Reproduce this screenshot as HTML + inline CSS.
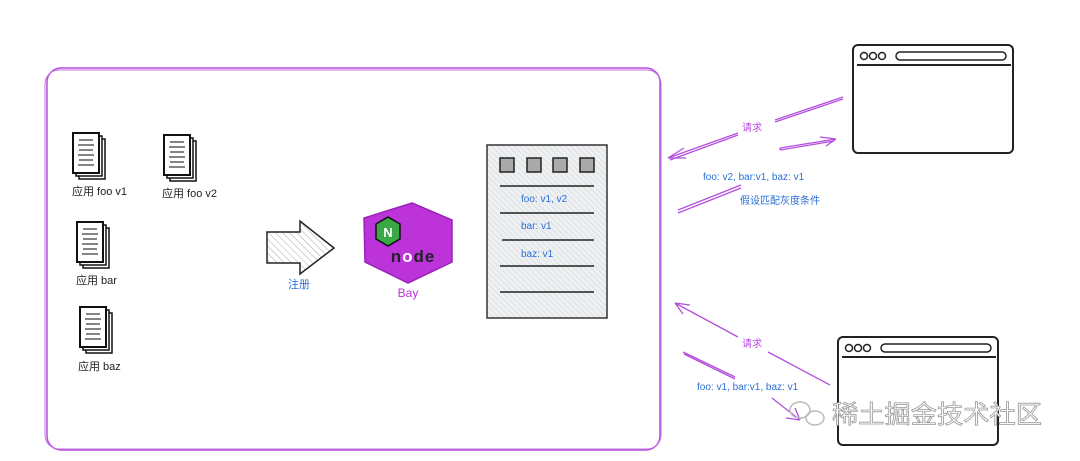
<!DOCTYPE html>
<html><head><meta charset="utf-8"><style>
html,body{margin:0;padding:0;background:#fff;width:1080px;height:461px;overflow:hidden}
text{font-family:"Liberation Sans","Noto Sans CJK SC",sans-serif}
</style></head><body>
<svg width="1080" height="461" viewBox="0 0 1080 461" xmlns="http://www.w3.org/2000/svg">
<defs>
<pattern id="h" width="5" height="5" patternUnits="userSpaceOnUse" patternTransform="rotate(-45)">
<line x1="0" y1="0" x2="0" y2="5" stroke="#aaa" stroke-width="1"/></pattern>
<pattern id="h2" width="4" height="4" patternUnits="userSpaceOnUse" patternTransform="rotate(-45)">
<rect width="4" height="4" fill="#eef0f2"/><line x1="0" y1="0" x2="0" y2="4" stroke="#cfd3d7" stroke-width="1"/></pattern>
<g id="doc">
<rect x="6" y="6" width="26" height="40" fill="#fff" stroke="#111" stroke-width="1.5"/>
<rect x="3" y="3" width="26" height="40" fill="#fff" stroke="#111" stroke-width="1.5"/>
<rect x="0" y="0" width="26" height="40" fill="#fff" stroke="#111" stroke-width="2"/>
<g stroke="#333" stroke-width="1.2"><line x1="6" y1="7" x2="20" y2="7"/><line x1="5" y1="12" x2="21" y2="12"/><line x1="6" y1="17" x2="20" y2="17"/><line x1="5" y1="22" x2="21" y2="22"/><line x1="6" y1="27" x2="20" y2="27"/><line x1="5" y1="32" x2="21" y2="32"/></g>
</g>
<g id="br">
<rect x="0" y="0" width="160" height="108" rx="5" fill="#fff" stroke="#222" stroke-width="2"/>
<circle cx="11" cy="11" r="3.5" fill="none" stroke="#222" stroke-width="1.5"/>
<circle cx="20" cy="11" r="3.5" fill="none" stroke="#222" stroke-width="1.5"/>
<circle cx="29" cy="11" r="3.5" fill="none" stroke="#222" stroke-width="1.5"/>
<rect x="43" y="7" width="110" height="8" rx="4" fill="none" stroke="#222" stroke-width="1.5"/>
<line x1="4" y1="20" x2="158" y2="20" stroke="#222" stroke-width="2"/>
</g>
</defs>

<rect x="47" y="68" width="613" height="382" rx="14" fill="none" stroke="#b44fdc" stroke-width="1.5"/>
<rect x="45" y="70" width="616" height="379" rx="14" fill="none" stroke="#c070e0" stroke-width="1"/>

<use href="#doc" x="73" y="133"/>
<use href="#doc" x="164" y="135"/>
<use href="#doc" x="77" y="222"/>
<use href="#doc" x="80" y="307"/>
<g font-size="11" fill="#222">
<text x="72" y="195">应用 foo v1</text>
<text x="162" y="197">应用 foo v2</text>
<text x="76" y="284">应用 bar</text>
<text x="78" y="370">应用 baz</text>
</g>

<path d="M267 232 H300 V221 L334 248 L300 274 V263 H267 Z" fill="url(#h)" stroke="#222" stroke-width="1.5"/>
<text x="288" y="288" font-size="11" fill="#2a6fd6">注册</text>

<polygon points="412,203 452,220 452,262 408,283 365,262 364,218" fill="#bb33d9" stroke="#9a22b8" stroke-width="1.5"/>
<polygon points="388,217 400,224 400,239 388,246 376,239 376,224" fill="#3aa845" stroke="#111" stroke-width="1.5"/>
<text x="388" y="237" font-size="13" font-weight="bold" fill="#fff" text-anchor="middle">N</text>
<text x="413" y="262" font-size="17" font-weight="bold" fill="#222" text-anchor="middle" letter-spacing="1">n<tspan fill="#fff">o</tspan>de</text>
<text x="408" y="297" font-size="12" fill="#bb33d9" text-anchor="middle">Bay</text>

<rect x="487" y="145" width="120" height="173" fill="url(#h2)" stroke="#333" stroke-width="1.5"/>
<g fill="#aaa" stroke="#222" stroke-width="1.5">
<rect x="500" y="158" width="14" height="14"/><rect x="527" y="158" width="14" height="14"/><rect x="553" y="158" width="14" height="14"/><rect x="580" y="158" width="14" height="14"/></g>
<g stroke="#222" stroke-width="1.5">
<line x1="500" y1="186" x2="594" y2="186"/><line x1="500" y1="213" x2="594" y2="213"/><line x1="502" y1="240" x2="594" y2="240"/><line x1="500" y1="266" x2="594" y2="266"/><line x1="500" y1="292" x2="594" y2="292"/></g>
<g font-size="10" fill="#2a6fd6">
<text x="521" y="202">foo: v1,  v2</text>
<text x="521" y="229">bar: v1</text>
<text x="521" y="257">baz: v1</text>
</g>

<use href="#br" x="853" y="45"/>
<use href="#br" x="838" y="337"/>

<g stroke="#b44fdc" stroke-width="1.3" fill="none">
<path d="M843 97 L775 120 M738 133 L668 158 M668 158 L684 148 M668 158 L686 158"/>
<path d="M843 99 L775 122 M738 135 L670 160"/>
<path d="M780 148 L836 139 M836 139 L820 137 M836 139 L826 146"/>
<path d="M780 150 L834 141 M780 148 L780 150"/>
<path d="M678 210 L741 185 M678 213 L741 188"/>
<path d="M830 385 L768 352 M738 337 L675 303 M675 303 L690 305 M675 303 L683 314"/>
<path d="M683 352 L735 377 M772 398 L800 420 M800 420 L786 418 M800 420 L795 408"/>
<path d="M684 354 L735 379"/>
</g>
<text x="742" y="131" font-size="10" fill="#b44fdc">请求</text>
<text x="742" y="347" font-size="10" fill="#b44fdc">请求</text>
<text x="703" y="180" font-size="10" fill="#2a6fd6">foo: v2, bar:v1, baz: v1</text>
<text x="740" y="204" font-size="10" fill="#2a6fd6">假设匹配灰度条件</text>
<text x="697" y="390" font-size="10" fill="#2a6fd6">foo: v1, bar:v1, baz: v1</text>

<g fill="none" stroke="#bbb" stroke-width="1.5">
<ellipse cx="800" cy="410" rx="10" ry="8"/><ellipse cx="815" cy="418" rx="9" ry="7"/></g>
<text x="832" y="423" font-size="25" fill="#fff" stroke="#999" stroke-width="0.8" textLength="210" lengthAdjust="spacingAndGlyphs">稀土掘金技术社区</text>
</svg>
</body></html>
